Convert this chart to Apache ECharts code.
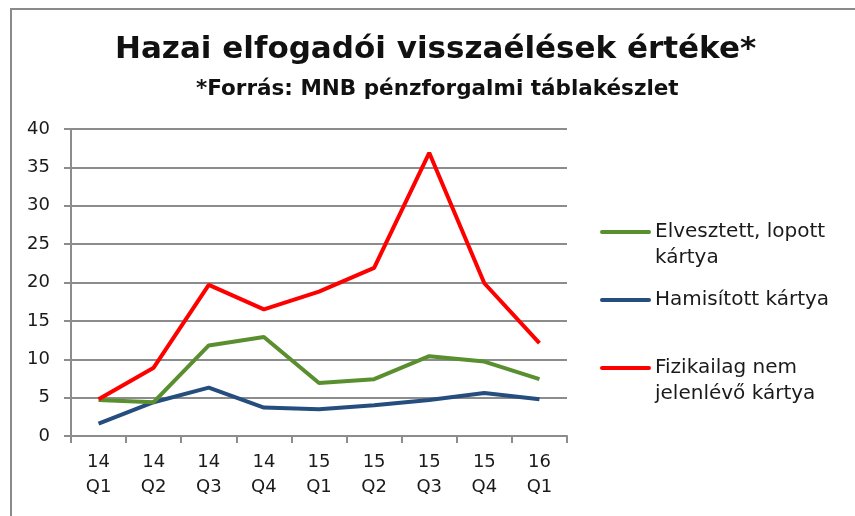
<!DOCTYPE html>
<html>
<head>
<meta charset="utf-8">
<script src="https://cdn.jsdelivr.net/npm/echarts@6/dist/echarts.min.js"></script>
<style>
  html, body { margin: 0; padding: 0; background: #fff; }
  #chart { width: 855px; height: 516px; }
</style>
</head>
<body>
<div id="chart"></div>
<script>
// ---- adatok (MNB pénzforgalmi táblakészlet) ----
var quarters = ["14\nQ1", "14\nQ2", "14\nQ3", "14\nQ4", "15\nQ1", "15\nQ2", "15\nQ3", "15\nQ4", "16\nQ1"];
var elvesztett = [4.7, 4.4, 11.8, 12.9, 6.9, 7.4, 10.4, 9.7, 7.4];
var hamisitott = [1.6, 4.4, 6.3, 3.7, 3.5, 4.0, 4.7, 5.6, 4.8];
var fizikailag = [4.8, 8.9, 19.7, 16.5, 18.8, 21.9, 36.9, 19.9, 12.1];
var seriesNames = ["Elvesztett, lopott\nkártya", "Hamisított kártya", "Fizikailag nem\njelenlévő kártya"];
var seriesColors = ["#5a8f2f", "#254e7f", "#ff0000"];

var FONT = "DejaVu Sans";
var chart = echarts.init(document.getElementById("chart"));

// jelmagyarázat kézzel: a vonal az első szövegsorhoz igazodik
function legendItem(i, y) {
  return [
    { type: "line", shape: { x1: 602, y1: y, x2: 649, y2: y },
      style: { stroke: seriesColors[i], lineWidth: 4, lineCap: "round" } },
    { type: "text", x: 655, y: y - 13,
      style: { text: seriesNames[i], fill: "#1a1a1a", font: "20px " + FONT, lineHeight: 26 } }
  ];
}

chart.setOption({
  backgroundColor: "#fff",
  animation: false,
  title: [
    { text: "Hazai elfogadói visszaélések értéke*", left: 110, top: 29,
      textStyle: { fontFamily: FONT, fontSize: 31, fontWeight: "bold", color: "#111" } },
    { text: "*Forrás: MNB pénzforgalmi táblakészlet", left: 191, top: 73,
      textStyle: { fontFamily: FONT, fontSize: 21.5, fontWeight: "bold", color: "#111" } }
  ],
  grid: { left: 71, right: 288, top: 129, bottom: 80 },
  xAxis: {
    type: "category",
    data: quarters,
    boundaryGap: true,
    axisLine: { lineStyle: { color: "#8c8c8c", width: 2 } },
    axisTick: { show: true, length: 7, inside: false, lineStyle: { color: "#8c8c8c", width: 2 } },
    axisLabel: { fontFamily: FONT, fontSize: 18, color: "#1a1a1a", lineHeight: 25, margin: 14 }
  },
  yAxis: {
    type: "value",
    min: 0, max: 40, interval: 5,
    axisLine: { show: true, lineStyle: { color: "#8c8c8c", width: 2 } },
    axisTick: { show: true, length: 7, lineStyle: { color: "#8c8c8c", width: 2 } },
    axisLabel: { fontFamily: FONT, fontSize: 18, color: "#1a1a1a", margin: 21 },
    splitLine: { lineStyle: { color: "#8c8c8c", width: 2 } }
  },
  series: [
    { name: seriesNames[0], type: "line", data: elvesztett, symbol: "none",
      lineStyle: { color: seriesColors[0], width: 4 }, z: 3 },
    { name: seriesNames[1], type: "line", data: hamisitott, symbol: "none",
      lineStyle: { color: seriesColors[1], width: 4 }, z: 2 },
    { name: seriesNames[2], type: "line", data: fizikailag, symbol: "none",
      lineStyle: { color: seriesColors[2], width: 4 }, z: 4 }
  ],
  graphic: [
    // keret bal és felső éle
    { type: "polyline", shape: { points: [[11, 516], [11, 9], [855, 9]] },
      style: { stroke: "#8a8a8a", lineWidth: 2, fill: null } }
  ].concat(legendItem(0, 232), legendItem(1, 300), legendItem(2, 368))
});
</script>
</body>
</html>
